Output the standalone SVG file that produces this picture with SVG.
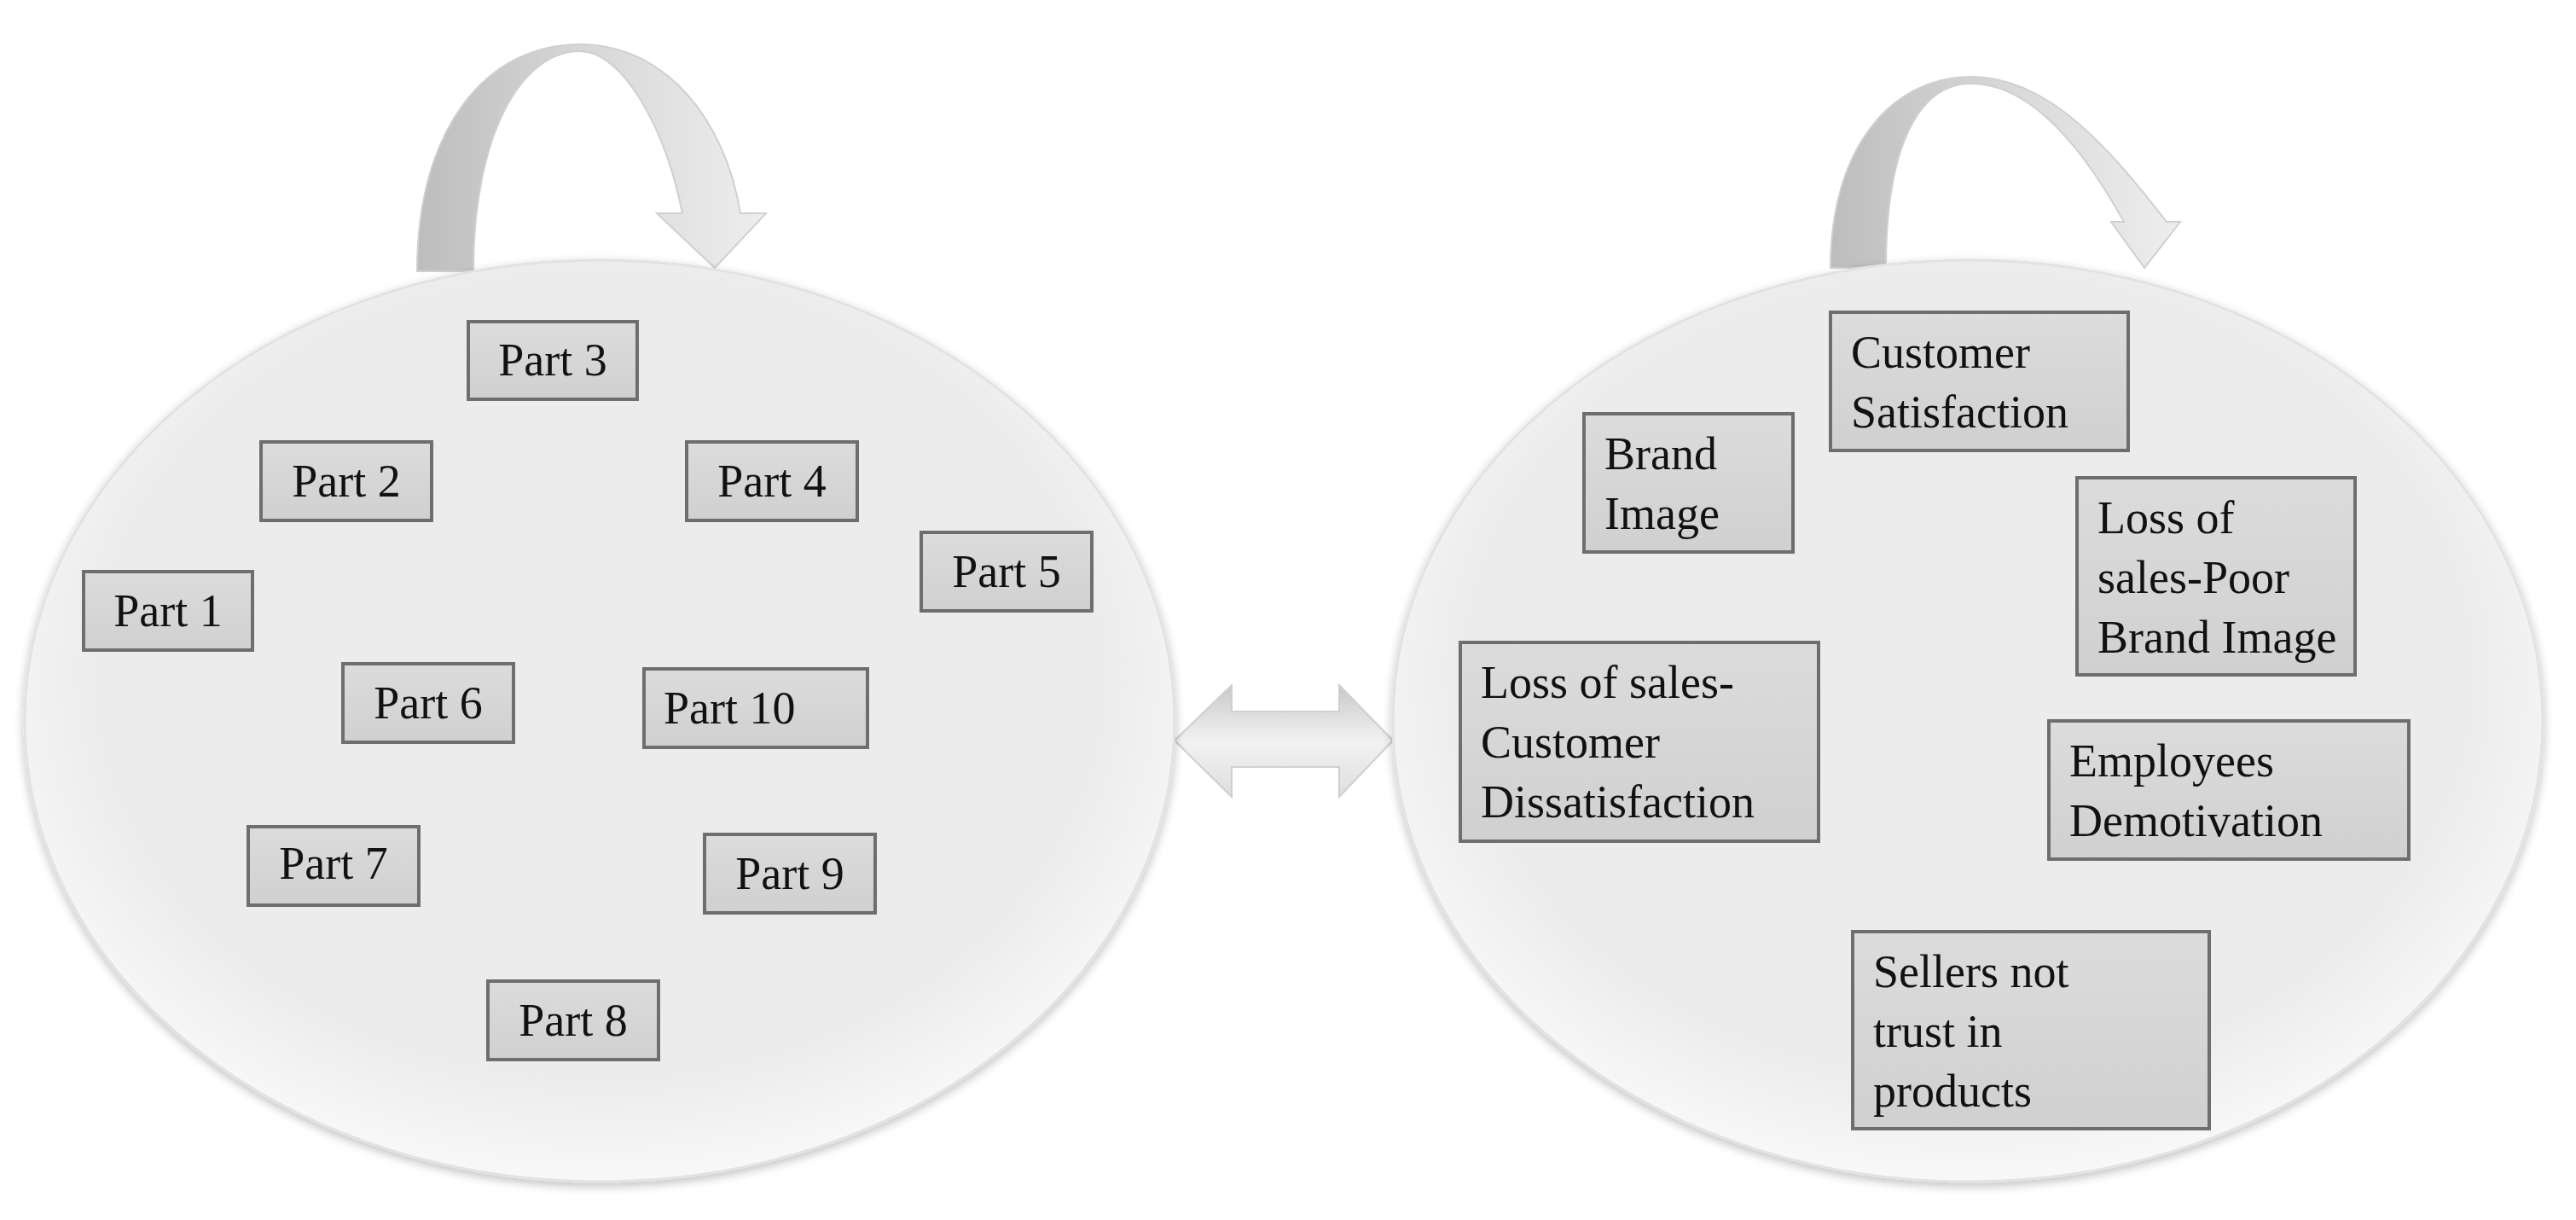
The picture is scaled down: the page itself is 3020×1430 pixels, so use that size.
<svg xmlns="http://www.w3.org/2000/svg" width="3020" height="1430" viewBox="0 0 3020 1430">
<style>
.box{fill:url(#bx);stroke:#6e6e6e;stroke-width:4}
.t{font-family:"Book Antiqua","Palatino Linotype","Liberation Serif",serif;font-size:54px;fill:#111}
.ell{fill:url(#eg);stroke:#e2e2e2;stroke-width:3;filter:url(#sh)}
.arw{fill:url(#ag);stroke:#d0d0d0;stroke-width:2}
</style>
<defs>
<radialGradient id="eg" cx="0.5" cy="0.45" r="0.55">
<stop offset="0.8" stop-color="#ececec"/><stop offset="1" stop-color="#f8f8f8"/>
</radialGradient>
<linearGradient id="bx" x1="0" y1="0" x2="0" y2="1"><stop offset="0" stop-color="#dcdcdc"/><stop offset="1" stop-color="#d0d0d0"/></linearGradient>
<linearGradient id="ag" x1="0" y1="0" x2="1" y2="0"><stop offset="0" stop-color="#bdbdbd"/><stop offset="0.5" stop-color="#d8d8d8"/><stop offset="1" stop-color="#eeeeee"/></linearGradient>
<linearGradient id="dg" x1="0" y1="0" x2="0" y2="1"><stop offset="0" stop-color="#c8c8c8"/><stop offset="0.5" stop-color="#f2f2f2"/><stop offset="1" stop-color="#dedede"/></linearGradient>
<filter id="sh" x="-5%" y="-5%" width="110%" height="110%"><feGaussianBlur in="SourceAlpha" stdDeviation="6"/><feOffset dy="4"/><feComponentTransfer><feFuncA type="linear" slope="0.25"/></feComponentTransfer><feMerge><feMergeNode/><feMergeNode in="SourceGraphic"/></feMerge></filter>
</defs>
<rect width="3020" height="1430" fill="#fff"/>
<g id="connectors">
<path class="arw" d="M489,318 C489,150 570,52 680,52 C780,52 850,140 868,250 L898,250 L838,314 L770,250 L800,250 C780,150 730,60 680,60 C610,60 555,160 555,318 Z"/>
<path class="arw" d="M2146,314 C2146,170 2220,90 2311,90 C2400,90 2470,170 2540,260 L2556,260 L2514,314 L2475,260 L2490,260 C2440,170 2380,98 2311,98 C2250,98 2211,170 2211,314 Z"/>
<path fill="url(#dg)" stroke="#cfcfcf" stroke-width="2" d="M1377,868 L1444,803 L1444,834 L1570,834 L1570,803 L1633,868 L1570,934 L1570,899 L1444,899 L1444,934 Z"/>
</g>
<g id="left-circle"><ellipse class="ell" cx="703" cy="845" rx="674" ry="540"/></g>
<g id="right-circle"><ellipse class="ell" cx="2307" cy="845" rx="674" ry="540"/></g>
<g id="part3"><rect class="box" x="549" y="377" width="198" height="91"/><text class="t" x="648" y="440" text-anchor="middle">Part 3</text></g>
<g id="part2"><rect class="box" x="306" y="518" width="200" height="92"/><text class="t" x="406" y="582" text-anchor="middle">Part 2</text></g>
<g id="part4"><rect class="box" x="805" y="518" width="200" height="92"/><text class="t" x="905" y="582" text-anchor="middle">Part 4</text></g>
<g id="part5"><rect class="box" x="1080" y="624" width="200" height="92"/><text class="t" x="1180" y="688" text-anchor="middle">Part 5</text></g>
<g id="part1"><rect class="box" x="98" y="670" width="198" height="92"/><text class="t" x="197" y="734" text-anchor="middle">Part 1</text></g>
<g id="part6"><rect class="box" x="402" y="778" width="200" height="92"/><text class="t" x="502" y="842" text-anchor="middle">Part 6</text></g>
<g id="part10"><rect class="box" x="755" y="784" width="262" height="92"/><text class="t" x="778" y="848">Part 10</text></g>
<g id="part7"><rect class="box" x="291" y="969" width="200" height="92"/><text class="t" x="391" y="1030" text-anchor="middle">Part 7</text></g>
<g id="part9"><rect class="box" x="826" y="978" width="200" height="92"/><text class="t" x="926" y="1042" text-anchor="middle">Part 9</text></g>
<g id="part8"><rect class="box" x="572" y="1150" width="200" height="92"/><text class="t" x="672" y="1214" text-anchor="middle">Part 8</text></g>
<g id="customer-satisfaction"><rect class="box" x="2146" y="366" width="349" height="162"/><text class="t" x="2170" y="431">Customer</text><text class="t" x="2170" y="501">Satisfaction</text></g>
<g id="brand-image"><rect class="box" x="1857" y="485" width="245" height="162"/><text class="t" x="1881" y="550">Brand</text><text class="t" x="1881" y="620">Image</text></g>
<g id="loss-poor-brand"><rect class="box" x="2435" y="560" width="326" height="231"/><text class="t" x="2459" y="625">Loss of</text><text class="t" x="2459" y="695">sales-Poor</text><text class="t" x="2459" y="765">Brand Image</text></g>
<g id="loss-dissatisfaction"><rect class="box" x="1712" y="753" width="420" height="233"/><text class="t" x="1736" y="818">Loss of sales-</text><text class="t" x="1736" y="888">Customer</text><text class="t" x="1736" y="958">Dissatisfaction</text></g>
<g id="employees"><rect class="box" x="2402" y="845" width="422" height="162"/><text class="t" x="2426" y="910">Employees</text><text class="t" x="2426" y="980">Demotivation</text></g>
<g id="sellers"><rect class="box" x="2172" y="1092" width="418" height="231"/><text class="t" x="2196" y="1157">Sellers not</text><text class="t" x="2196" y="1227">trust in</text><text class="t" x="2196" y="1297">products</text></g>
</svg>
